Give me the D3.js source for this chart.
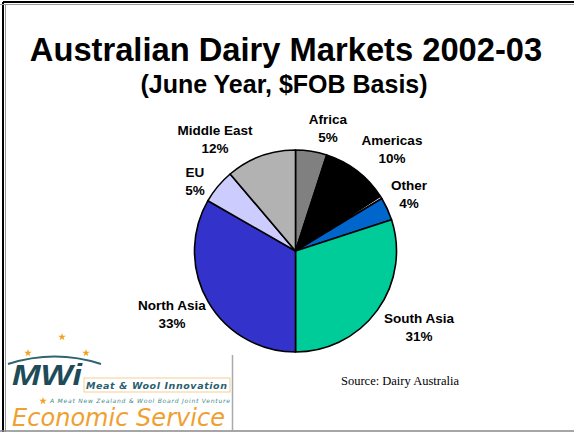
<!DOCTYPE html>
<html><head><meta charset="utf-8">
<script src="https://cdn.jsdelivr.net/npm/d3@7"></script>
<style>html,body{margin:0;padding:0;background:#fff;}svg{display:block;}</style>
</head><body>
<script>
const categories = ["Africa", "Americas", "", "Other", "South Asia", "North Asia", "EU", "Middle East"];
const values = [5.0, 10.9, 0.4, 3.7, 30.0, 33.3, 5.5, 11.2];
const pctLabels = ["5%", "10%", "", "4%", "31%", "33%", "5%", "12%"];
const colors = ["#808080", "#000000", "#ffffff", "#0066cc", "#00cc99", "#3333cc", "#ccccff", "#b2b2b2"];
const labelPos = [[328,119],[392,140],null,[409,185],[419,318],[172,305],[195,172],[215,130]];

const W = 574, H = 432;
const svg = d3.select("body").append("svg").attr("width", W).attr("height", H);

// frame
svg.append("line").attr("x1",3).attr("y1",2).attr("x2",574).attr("y2",2).attr("stroke","#000").attr("stroke-width",2);
svg.append("line").attr("x1",3).attr("y1",2).attr("x2",3).attr("y2",432).attr("stroke","#000").attr("stroke-width",2);
svg.append("line").attr("x1",0).attr("y1",4.5).attr("x2",574).attr("y2",4.5).attr("stroke","#999").attr("stroke-width",1);
svg.append("line").attr("x1",5.5).attr("y1",4).attr("x2",5.5).attr("y2",432).attr("stroke","#999").attr("stroke-width",1);
svg.append("line").attr("x1",0).attr("y1",431).attr("x2",574).attr("y2",431).attr("stroke","#888").attr("stroke-width",1.5);

// titles
svg.append("text").attr("x",286).attr("y",61).attr("text-anchor","middle")
  .style("font","bold 32.7px 'Liberation Sans', Arial, sans-serif").text("Australian Dairy Markets 2002-03");
svg.append("text").attr("x",284).attr("y",93).attr("text-anchor","middle")
  .style("font","bold 25px 'Liberation Sans', Arial, sans-serif").text("(June Year, $FOB Basis)");

// pie
const cx = 295.5, cy = 251, r = 101;
const pie = d3.pie().sort(null).value(d => d.v);
const arc = d3.arc().innerRadius(0).outerRadius(r);
const data = categories.map((c,i)=>({c, v: values[i], col: colors[i], p: pctLabels[i], pos: labelPos[i]}));
const g = svg.append("g").attr("transform",`translate(${cx},${cy})`);
g.selectAll("path").data(pie(data)).join("path")
  .attr("d", arc).attr("fill", d => d.data.col)
  .attr("stroke","#000").attr("stroke-width",1.6).attr("stroke-linejoin","round");

// labels
const lab = svg.append("g").style("font","bold 13.5px 'Liberation Sans', Arial, sans-serif").attr("text-anchor","middle");
data.forEach(d => {
  if (!d.pos) return;
  lab.append("text").attr("x", d.pos[0]).attr("y", d.pos[1]+5).text(d.c);
  lab.append("text").attr("x", d.pos[0]).attr("y", d.pos[1]+23).text(d.p);
});

// source
svg.append("text").attr("x",400).attr("y",385).attr("text-anchor","middle")
  .style("font","12.5px 'Liberation Serif', 'Times New Roman', serif").text("Source: Dairy Australia");

// logo
const logo = svg.append("g");
logo.append("line").attr("x1",232.5).attr("y1",355).attr("x2",232.5).attr("y2",430).attr("stroke","#aaa").attr("stroke-width",1.5);
const star = d3.symbol().type(d3.symbolStar).size(18);
[[62,337],[28,353],[86,353],[43,401]].forEach(p=>{
  logo.append("path").attr("d", star()).attr("transform",`translate(${p[0]},${p[1]})`).attr("fill","#f5a020");
});
logo.append("path").attr("d","M8,364 Q55,349 101,364").attr("fill","none").attr("stroke","#2f6370").attr("stroke-width",2);
logo.append("text").attr("x",12).attr("y",385).style("font","italic bold 30px 'Liberation Sans', Arial, sans-serif")
  .attr("fill","#1d4b58").attr("textLength",70).attr("lengthAdjust","spacingAndGlyphs").text("MWi");
logo.append("rect").attr("x",84).attr("y",378).attr("width",146).attr("height",14).attr("fill","none").attr("stroke","#f2c27a").attr("stroke-width",0.8);
logo.append("text").attr("x",86).attr("y",389).style("font","italic bold 9.5px 'DejaVu Sans', sans-serif")
  .attr("fill","#2b5f6e").attr("textLength",141).text("Meat & Wool Innovation");
logo.append("text").attr("x",50).attr("y",403).style("font","italic 6px 'DejaVu Sans', sans-serif")
  .attr("fill","#3a8a8a").attr("textLength",180).text("A Meat New Zealand & Wool Board Joint Venture");
logo.append("text").attr("x",12).attr("y",426).style("font","italic 24px 'DejaVu Sans', sans-serif")
  .attr("fill","#f0a030").attr("textLength",213).attr("lengthAdjust","spacingAndGlyphs").text("Economic Service");
</script>
</body></html>
